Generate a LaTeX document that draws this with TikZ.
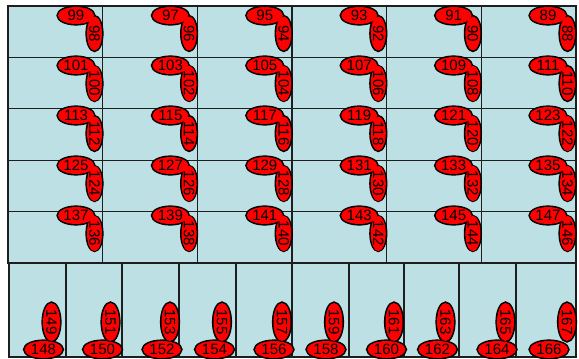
\documentclass[tikz,border=0pt]{standalone}
\usepackage{fontspec}
\setmainfont{Liberation Sans}
\usetikzlibrary{shapes.geometric}
\definecolor{cellblue}{RGB}{188,224,228}
\definecolor{gridline}{RGB}{30,30,30}
\definecolor{tagred}{RGB}{255,0,0}

\begin{document}
\begin{tikzpicture}[x=1pt, y=-1pt,
  cell/.style={draw=gridline, line width=1.1pt, fill=cellblue},
  frame/.style={draw=gridline, line width=1.7pt},
  rim/.style={draw=black, line width=3.2pt},
  htag/.style={ellipse, fill=tagred, inner sep=0pt, outer sep=0pt,
    minimum width=36pt, minimum height=17pt, font=\fontsize{15}{16}\selectfont},
  vtag/.style={htag, rotate=-90, minimum width=34pt, minimum height=15pt}
]
\useasboundingbox (0,0) rectangle (579,359);

% cells, top block (6 x 5)
\foreach \r in {0,...,4}
  \foreach \c in {0,...,5}
    \path[cell] (8+94.65*\c,6+51.4*\r) rectangle ++(94.65,51.4);
% cells, bottom strip
\foreach \xa/\xb in {9/66, 66/122, 122/179, 179/236, 236/292, 292/349, 349/404, 404/459, 459/516, 516/576}
  \path[cell] (\xa,263) rectangle (\xb,357);
\draw[frame] (8,6) rectangle (576,263);

% tags, top block
\foreach \r in {0,...,4}
  \foreach \c in {0,...,5} {
    \pgfmathtruncatemacro\hn{ifthenelse(\r==0, 99-2*\c, 89+12*\r+2*\c)}
    \pgfmathtruncatemacro\vn{\hn-1}
    \pgfmathsetmacro\hx{76+94.4*\c}
    \pgfmathsetmacro\vx{94.5+94.6*\c}
    \pgfmathsetmacro\hy{15.5+50*\r}
    \pgfmathsetmacro\vy{\hy+18}
    \draw[rim] (\vx,\vy) ellipse [x radius=7.5pt, y radius=17pt];
    \draw[rim] (\hx,\hy) ellipse [x radius=18pt, y radius=8.5pt];
    \node[vtag] (v-\r-\c) at (\vx,\vy) {\vn};
    \node[htag] (h-\r-\c) at (\hx,\hy) {\hn};
  }

% tags, bottom strip
\foreach \hx/\vx [count=\i from 0] in {43.5/51.5, 102.5/110.5, 162/170, 214.5/222, 274/282, 326/334, 386.5/394, 437.5/445.5, 497/505.5, 549/567} {
    \pgfmathtruncatemacro\hn{148+2*\i}
    \pgfmathtruncatemacro\vn{\hn+1}
    \draw[rim] (\vx,322) ellipse [x radius=8.5pt, y radius=19pt];
    \draw[rim] (\hx,349.5) ellipse [x radius=19pt, y radius=8.5pt];
    \node[vtag, minimum width=38pt, minimum height=17pt] (vb-\i) at (\vx,322) {\vn};
    \node[htag, minimum width=38pt] (hb-\i) at (\hx,349.5) {\hn};
  }
\end{tikzpicture}
\end{document}
